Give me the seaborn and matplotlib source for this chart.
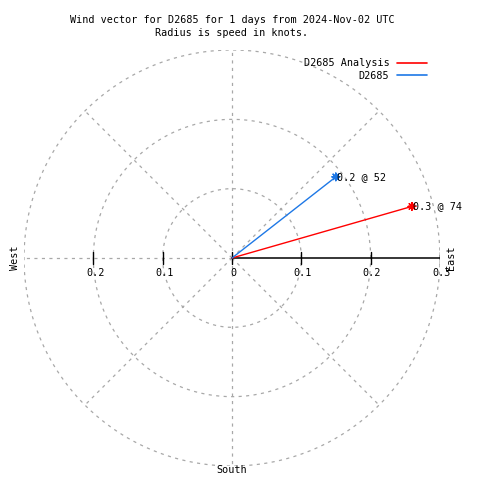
import numpy as np
import pandas as pd
import matplotlib
matplotlib.use("Agg")
import matplotlib.pyplot as plt
import seaborn as sns
from matplotlib.lines import Line2D

# ---- data ----
series_names = ["D2685 Analysis", "D2685"]
speeds = [0.27, 0.19]          # knots
directions = [74, 52]          # degrees (compass)
speed_labels = ["0.3", "0.2"]
series_colors = ["#ff0000", "#1e78e6"]
ring_values = [0.1, 0.2, 0.3]
east_ticks = [0.1, 0.2, 0.3]
west_ticks = [0.1, 0.2]
title_lines = ["Wind vector for D2685 for 1 days from 2024-Nov-02 UTC",
               "Radius is speed in knots."]

sns.set_theme(style="white")
plt.rcParams['font.family'] = ['DejaVu Sans Mono', 'DejaVu Sans']
plt.rcParams['text.color'] = 'black'

FS = 7.3
fig = plt.figure(figsize=(4.8, 4.8), dpi=100)
ax = fig.add_axes([24/480, 14/480, 416/480, 416/480])
rmax = ring_values[-1]
ax.set_xlim(-rmax, rmax)
ax.set_ylim(-rmax, rmax)
ax.set_aspect('equal')
ax.axis('off')

grid_kw = dict(color='#a8a8a8', lw=0.9, ls=(0, (2.5, 3.5)), zorder=1)
th = np.linspace(0, 2*np.pi, 400)
for r in ring_values:
    ax.plot(r*np.cos(th), r*np.sin(th), **grid_kw)
for a in range(0, 360, 45):
    if a == 0:
        continue
    rad = np.deg2rad(a)
    ax.plot([0, rmax*np.cos(rad)], [0, rmax*np.sin(rad)], **grid_kw)

# East axis (black) with ticks
ax.plot([0, rmax], [0, 0], color='black', lw=1.1, zorder=2)
tick_h = 0.008
for t in [0] + east_ticks:
    ax.plot([t, t], [-tick_h, tick_h], color='black', lw=1.0, zorder=2)
    ax.text(t + 0.002, -0.014, "0" if t == 0 else f"{t:g}", ha='center', va='top',
            fontsize=FS, color='black')
for t in west_ticks:
    ax.plot([-t, -t], [-tick_h, tick_h], color='black', lw=1.0, zorder=2)
    ax.text(-t + 0.003, -0.014, f"{t:g}", ha='center', va='top', fontsize=FS, color='black')

# vectors
rows = []
for name, s, d in zip(series_names, speeds, directions):
    rad = np.deg2rad(d)
    rows.append(dict(name=name, x=0.0, y=0.0, order=0))
    rows.append(dict(name=name, x=s*np.sin(rad), y=s*np.cos(rad), order=1))
df = pd.DataFrame(rows)
pal = dict(zip(series_names, series_colors))
sns.lineplot(data=df, x='x', y='y', hue='name', palette=pal, sort=False,
             estimator=None, units='name', lw=1.0, ax=ax, zorder=3, legend=False)
ends = df[df['order'] == 1]
sns.scatterplot(data=ends, x='x', y='y', hue='name', palette=pal, marker=(8, 2, 0),
                s=30, linewidth=1.0, ax=ax, zorder=4, legend=False)
for (_, row), lab, d in zip(ends.iterrows(), speed_labels, directions):
    ax.text(row['x'] + 0.002, row['y'], f"{lab} @ {d}", ha='left', va='center',
            fontsize=FS, color='black', zorder=5)

# legend
handles = [Line2D([0], [0], color=c, lw=1.2) for c in series_colors]
fig.legend(handles, series_names, loc='upper right', bbox_to_anchor=(432/480, 1 - 53/480),
           frameon=False, markerfirst=False, fontsize=FS, handlelength=3.0,
           labelspacing=0.25, handletextpad=0.7, borderpad=0, labelcolor='black')

# compass labels
fig.text(15/480, 1 - 258/480, "West", rotation=90, ha='center', va='center', fontsize=FS)
fig.text(451/480, 1 - 258/480, "East", rotation=90, ha='center', va='center', fontsize=FS)
fig.text(232/480, 1 - 470/480, "South", ha='center', va='center', fontsize=FS)

# title
fig.text(232/480, 1 - 20/480, title_lines[0], ha='center', va='center', fontsize=FS)
fig.text(232/480, 1 - 33/480, title_lines[1], ha='center', va='center', fontsize=FS)

fig.savefig("out.png", dpi=100)
